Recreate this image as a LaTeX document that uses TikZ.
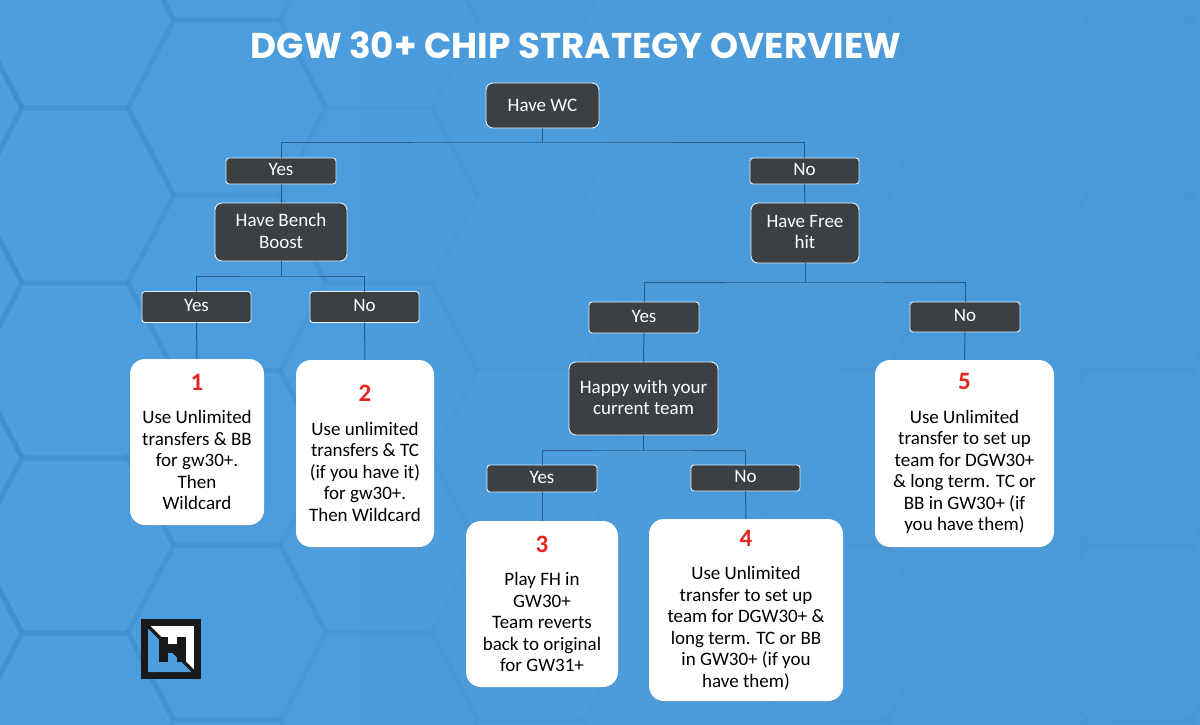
\documentclass[tikz,border=0pt]{standalone}
\usepackage{fontspec}
\setmainfont{Carlito}
\newfontfamily\titlefont{Poppins}
\usetikzlibrary{shadows}
\definecolor{bgblue}{HTML}{4A9ADA}
\definecolor{bgleft}{HTML}{4C9EDF}
\definecolor{bgright}{HTML}{4A99D8}
\definecolor{hexline}{HTML}{3F86C4}
\definecolor{hexedge}{HTML}{5FA9E4}
\definecolor{darkbox}{HTML}{3C4043}
\definecolor{linkblue}{HTML}{2C5A86}
\definecolor{numred}{HTML}{E4261F}
\tikzset{
	darknode/.style={draw=white!85!bgblue, line width=0.9pt, fill=darkbox, text=white, rounded corners=3pt, inner sep=0pt, outer sep=0pt, align=center, text depth=2.5pt, font=\fontsize{19}{21.5}\selectfont},
	asknode/.style={darknode, rounded corners=7pt},
	endnode/.style={fill=white, text=black, rounded corners=15pt, inner sep=0pt, outer sep=0pt, align=center, font=\fontsize{19}{21.5}\selectfont, drop shadow={opacity=0.25, shadow xshift=0pt, shadow yshift=-1pt}},
	link/.style={draw=linkblue, line width=1pt}
}
\newcommand{\optnum}[1]{{\fontsize{25}{24}\selectfont\bfseries\textcolor{numred}{#1}}\\[12pt]}
\begin{document}
\begin{tikzpicture}[x=1pt,y=-1pt]
		\useasboundingbox (0,0) rectangle (1200,725);
		
		% Background
		\shade[left color=bgleft, right color=bgright] (0,0) rectangle (1200,725);
		
		% Hexagon pattern, fading out to the right
		\begin{scope}
			\clip (0,0) rectangle (1200,725);
			\foreach \col in {-1,...,8} {
				\foreach \row in {-1,...,4} {
					\pgfmathsetmacro{\cx}{75+152*\col}
					\pgfmathsetmacro{\cy}{175*\row+(mod(\col+2,2)==0 ? 195.5 : 107.5)}
					\pgfmathsetmacro{\op}{max(0.08,0.62-\cx/900)}
					\draw[hexline, line width=5pt, opacity=\op] (\cx-99,\cy) -- (\cx-53,\cy-87.5) -- (\cx+53,\cy-87.5) -- (\cx+99,\cy);
					\draw[hexedge, line width=0.8pt, opacity=0.5*\op] (\cx-93,\cy) -- (\cx-50,\cy-82) -- (\cx+50,\cy-82) -- (\cx+93,\cy) -- (\cx+50,\cy+82) -- (\cx-50,\cy+82) -- cycle;
				}
			}
		\end{scope}
		
		% Title
		\node[text=white, inner sep=0pt, font=\titlefont\bfseries\fontsize{35.8}{38}\selectfont] (Title) at (576,45) {DGW 30+ CHIP STRATEGY OVERVIEW};
		
		% Questions
		\node[asknode, text depth=0pt, minimum width=113pt, minimum height=45pt] (HaveWC) at (542.5,105.5) {Have WC};
		\node[asknode, minimum width=132pt, minimum height=58pt] (HaveBB) at (281,232) {Have Bench\\Boost};
		\node[asknode, minimum width=108pt, minimum height=60pt] (HaveFH) at (805,233) {Have Free\\hit};
		\node[asknode, minimum width=149pt, minimum height=73pt] (HappyTeam) at (643.5,398.5) {Happy with your\\current team};
		
		% Answers
		\node[darknode, minimum width=110pt, minimum height=26pt] (YesWC) at (281,171) {Yes};
		\node[darknode, minimum width=109pt, minimum height=26pt] (NoWC) at (804.5,171) {No};
		\node[darknode, minimum width=109pt, minimum height=31pt] (YesBB) at (196.5,307) {Yes};
		\node[darknode, minimum width=109pt, minimum height=31pt] (NoBB) at (364.5,307) {No};
		\node[darknode, minimum width=110pt, minimum height=31pt] (YesFH) at (644,317.5) {Yes};
		\node[darknode, minimum width=110pt, minimum height=30pt] (NoFH) at (965,317) {No};
		\node[darknode, minimum width=110pt, minimum height=27pt] (YesTeam) at (542,478.5) {Yes};
		\node[darknode, minimum width=109pt, minimum height=26pt] (NoTeam) at (745.5,478) {No};
		
		% Outcomes
		\node[endnode, minimum width=134pt, minimum height=166pt] (EndOne) at (197,442) {\optnum{1}Use Unlimited\\transfers \& BB\\for gw30+.\\Then\\Wildcard};
		\node[endnode, minimum width=138pt, minimum height=187pt] (EndTwo) at (365,453.5) {\optnum{2}Use unlimited\\transfers \& TC\\(if you have it)\\for gw30+.\\Then Wildcard};
		\node[endnode, minimum width=152pt, minimum height=166pt] (EndThree) at (542,604) {\optnum{3}Play FH in\\GW30+\\Team reverts\\back to original\\for GW31+};
		\node[endnode, minimum width=194pt, minimum height=182pt] (EndFour) at (746,610) {\optnum{4}Use Unlimited\\transfer to set up\\team for DGW30+ \&\\long term. TC or BB\\in GW30+ (if you\\have them)};
		\node[endnode, minimum width=179pt, minimum height=187pt] (EndFive) at (964.5,453.5) {\optnum{5}Use Unlimited\\transfer to set up\\team for DGW30+\\\& long term. TC or\\BB in GW30+ (if\\you have them)};
		
		% Branch points
		\coordinate (BusWC) at (542.5,142);
		\coordinate (BusBB) at (281,276);
		\coordinate (BusFH) at (805,282);
		\coordinate (BusTeam) at (643.5,450);
		
		% Connectors
		\draw[link] (HaveWC.south) -- (BusWC);
		\draw[link] (YesWC.north) |- (BusWC) -| (NoWC.north);
		\draw[link] (YesWC.south) -- (HaveBB.north);
		\draw[link] (NoWC.south) -- (HaveFH.north);
		\draw[link] (HaveBB.south) -- (BusBB);
		\draw[link] (YesBB.north) |- (BusBB) -| (NoBB.north);
		\draw[link] (HaveFH.south) -- (BusFH);
		\draw[link] (YesFH.north) |- (BusFH) -| (NoFH.north);
		\draw[link] (YesFH.south) -- (HappyTeam.north);
		\draw[link] (HappyTeam.south) -- (BusTeam);
		\draw[link] (YesTeam.north) |- (BusTeam) -| (NoTeam.north);
		\draw[link] (YesBB.south) -- (EndOne.north);
		\draw[link] (NoBB.south) -- (EndTwo.north);
		\draw[link] (YesTeam.south) -- (EndThree.north);
		\draw[link] (NoTeam.south) -- (EndFour.north);
		\draw[link] (NoFH.south) -- (EndFive.north);
		
		% Logo
		\coordinate (Logo) at (141,619);
		\fill[black!90] (Logo) rectangle ++(60,60);
		\fill[white] (Logo) ++(7,7) rectangle ++(46,46);
		\fill[bgleft] (Logo) ++(7,7) -- ++(46,46) -- ++(-46,0) -- cycle;
		\draw[black!90, line width=3.5pt] (Logo) ++(6,6) -- ++(48,48);
		\fill[black!90] (Logo) ++(18,18) rectangle ++(9,25);
		\fill[black!90] (Logo) ++(36,18) rectangle ++(9,25);
		\fill[black!90] (Logo) ++(27,25) rectangle ++(9,9);
		
	\end{tikzpicture}
\end{document}
